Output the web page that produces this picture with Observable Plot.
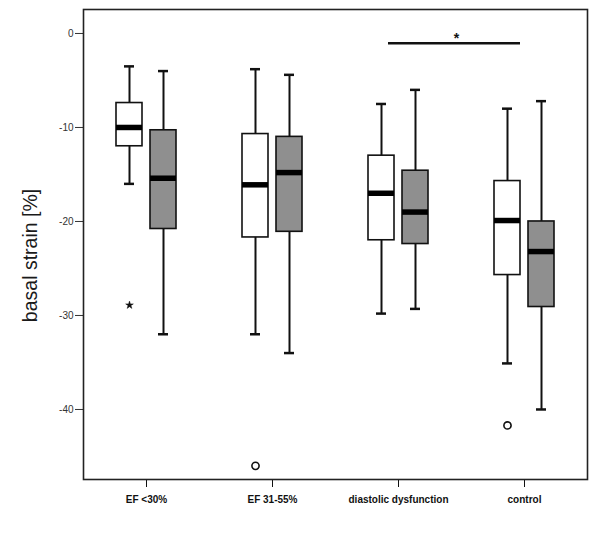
<!DOCTYPE html>
<html>
<head>
<meta charset="utf-8">
<script src="https://cdn.jsdelivr.net/npm/d3@7"></script>
<script src="https://cdn.jsdelivr.net/npm/@observablehq/plot@0.6"></script>
<style>
  html, body { margin: 0; padding: 0; background: #fff; }
  svg { display: block; }
</style>
</head>
<body>
<div id="chart"></div>
<script>
// Categories (x axis)
const categories = ["EF <30%", "EF 31-55%", "diastolic dysfunction", "control"];
const yTicks = [0, -10, -20, -30, -40];

// White boxes (first series): [lowWhisker, q1, median, q3, highWhisker]
const whiteLow    = [-16.0, -32.0, -29.8, -35.1];
const whiteQ1     = [-12.0, -21.7, -22.0, -25.7];
const whiteMedian = [-10.0, -16.1, -17.0, -19.9];
const whiteQ3     = [-7.4, -10.7, -13.0, -15.7];
const whiteHigh   = [-3.5, -3.8, -7.5, -8.0];

// Gray boxes (second series)
const grayLow    = [-32.0, -34.0, -29.3, -40.0];
const grayQ1     = [-20.8, -21.1, -22.4, -29.1];
const grayMedian = [-15.4, -14.8, -19.0, -23.2];
const grayQ3     = [-10.3, -11.0, -14.6, -20.0];
const grayHigh   = [-4.0, -4.4, -6.0, -7.2];

// Outliers (white series)
const extremeCats = ["EF <30%"];
const extremeVals = [-28.9];
const outlierCats = ["EF 31-55%", "control"];
const outlierVals = [-46.0, -41.7];

// Significance annotation
const sigFrom = "diastolic dysfunction";
const sigTo = "control";
const sigY = -1.05;

const series = [
  {name: "white", low: whiteLow, q1: whiteQ1, med: whiteMedian, q3: whiteQ3, high: whiteHigh, fill: "#ffffff", dx: -17},
  {name: "gray", low: grayLow, q1: grayQ1, med: grayMedian, q3: grayQ3, high: grayHigh, fill: "#8f8f8f", dx: 17}
];

const ink = "#111";
const font = "Liberation Sans, Arial, sans-serif";
const marks = [];

for (const s of series) {
  const rows = categories.map((c, i) => ({cat: c, low: s.low[i], q1: s.q1[i], med: s.med[i], q3: s.q3[i], high: s.high[i]}));
  // whiskers
  marks.push(Plot.ruleX(rows, {x: "cat", y1: "low", y2: "q1", stroke: ink, strokeWidth: 2, dx: s.dx}));
  marks.push(Plot.ruleX(rows, {x: "cat", y1: "q3", y2: "high", stroke: ink, strokeWidth: 2, dx: s.dx}));
  // caps
  marks.push(Plot.tickY(rows, {x: "cat", y: "low", stroke: ink, strokeWidth: 2.5, dx: s.dx, insetLeft: 58, insetRight: 58}));
  marks.push(Plot.tickY(rows, {x: "cat", y: "high", stroke: ink, strokeWidth: 2.5, dx: s.dx, insetLeft: 58, insetRight: 58}));
  // box
  marks.push(Plot.rectY(rows, {x: "cat", y1: "q1", y2: "q3", fill: s.fill, stroke: ink, strokeWidth: 1.6, dx: s.dx, insetLeft: 50, insetRight: 50}));
  // median
  marks.push(Plot.tickY(rows, {x: "cat", y: "med", stroke: "#000", strokeWidth: 5.5, dx: s.dx, insetLeft: 50, insetRight: 50}));
}

// outliers
marks.push(Plot.dot(extremeCats.map((c, i) => ({cat: c, v: extremeVals[i]})), {x: "cat", y: "v", symbol: "star", r: 2.4, fill: ink, stroke: ink, strokeWidth: 0.5, dx: -17}));
marks.push(Plot.dot(outlierCats.map((c, i) => ({cat: c, v: outlierVals[i]})), {x: "cat", y: "v", r: 3.6, fill: "white", stroke: ink, strokeWidth: 1.6, dx: -17}));

// significance bar
marks.push(Plot.ruleY([{a: sigFrom, b: sigTo, y: sigY}], {x1: "a", x2: "b", y: "y", stroke: ink, strokeWidth: 2.5, insetLeft: 53, insetRight: 67}));
marks.push(Plot.text([{a: sigFrom, y: sigY}], {x: "a", y: "y", text: () => "*", dx: 58, dy: -5, fontSize: 14, fontWeight: "bold", fill: ink, fontFamily: font}));

// axes
marks.push(Plot.axisY({ticks: yTicks, tickSize: 8, tickPadding: 2, tickFormat: d => String(d), fontSize: 10, color: "#333", label: null}));
marks.push(Plot.axisX({tickSize: 8, tickPadding: 8, fontSize: 10, fontWeight: "bold", color: "#111", label: null}));
marks.push(Plot.text(["basal strain [%]"], {frameAnchor: "left", textAnchor: "middle", rotate: -90, dx: -53, dy: 11, fontSize: 19.5, fill: "#1a1a1a", fontFamily: font}));
marks.push(Plot.frame({stroke: "#222", strokeWidth: 1.6}));

const chart = Plot.plot({
  width: 600,
  height: 533,
  marginLeft: 83,
  marginRight: 13,
  marginTop: 9,
  marginBottom: 54,
  style: {fontFamily: font, background: "white"},
  x: {type: "band", domain: categories, padding: 0, label: null},
  y: {domain: [-47.45, 2.55], label: null},
  marks
});
document.getElementById("chart").appendChild(chart);
</script>
</body>
</html>
